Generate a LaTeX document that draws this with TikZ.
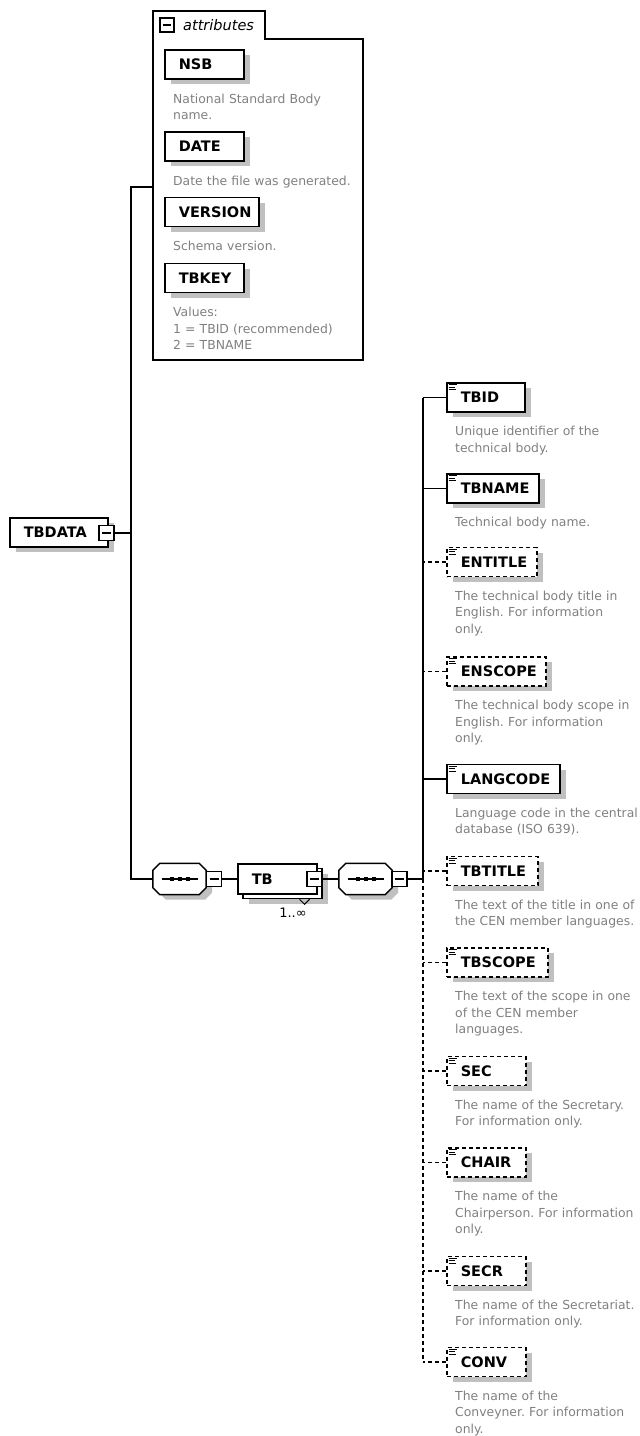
\documentclass[tikz,border=0pt]{standalone}
\usepackage{fontspec}
\setmainfont{DejaVu Sans}
\usetikzlibrary{shadows}
\frenchspacing
\definecolor{desccol}{RGB}{128,128,128}
\definecolor{shadecol}{RGB}{192,192,192}
\newcommand\lblfont{\fontsize{14.5}{17}\selectfont\bfseries}
\newcommand\descfont{\fontsize{12.4}{16.5}\selectfont}
% Achteck um einen Knoten, verschoben um (#2,#3)
\newcommand\octo[3]{([shift={(#2+7,#3)}]#1.north west) -- ([shift={(#2-7,#3)}]#1.north east)
  -- ([shift={(#2,#3+7)}]#1.north east) -- ([shift={(#2,#3-7)}]#1.south east)
  -- ([shift={(#2-7,#3)}]#1.south east) -- ([shift={(#2+7,#3)}]#1.south west)
  -- ([shift={(#2,#3-7)}]#1.south west) -- ([shift={(#2,#3+7)}]#1.north west) -- cycle}
% Sequenz-Symbol
\newcommand\seqsym[2]{%
  \node[seqnode] (#1) at (#2) {};
  \fill[shadecol] \octo{#1}{6}{5};
  \draw[line width=1.5pt, fill=white] \octo{#1}{0}{0};
  \draw[line width=1.3pt] ([xshift=-18pt]#1.center) -- ([xshift=18pt]#1.center);
  \foreach \dx in {-8,0,8}
    \fill ([shift={(\dx-2,-2)}]#1.center) rectangle ([shift={(\dx+2,2)}]#1.center);
}
\begin{document}
\begin{tikzpicture}[x=1pt, y=-1pt,
  conn/.style={line width=1.5pt},
  box/.style={draw, fill=white, line width=1.6pt, minimum height=29pt, inner xsep=0pt,
    inner ysep=0pt, align=left, anchor=west, font=\lblfont,
    execute at begin node={\hspace*{14pt}}},
  elem/.style={box, drop shadow={shadow xshift=6pt, shadow yshift=-5pt, fill=shadecol, opacity=1}},
  opt/.style={dash pattern=on 4pt off 3pt},
  desc/.style={anchor=base west, align=left, text width=185pt, inner sep=0pt,
    font=\descfont, text=desccol},
  minus/.style={draw, fill=white, line width=1.3pt, minimum width=15pt, minimum height=15pt,
    inner sep=0pt, path picture={\draw[line width=1.2pt]
      ([xshift=3pt]path picture bounding box.west) -- ([xshift=-3pt]path picture bounding box.east);}},
  seqnode/.style={minimum width=53pt, minimum height=31pt, inner sep=0pt}]
  \useasboundingbox (0,0) rectangle (640,1436);

  % Attribute
  \draw[line width=1.5pt] (153,11) -- (265,11) -- (265,39) -- (363,39) -- (363,360) -- (153,360) -- cycle;
  \coordinate (attr) at (153,187);
  \node[minus, minimum width=14pt, minimum height=14pt] (attrm) at (167,25) {};
  \node[font=\fontsize{14.5}{17}\selectfont\itshape, anchor=west, inner sep=0pt] (attrlbl) at (183,25) {attributes};

  \node[elem, text width=79pt] (nsb) at (164,64.5) {NSB};
  \node[desc] (nsbd) at ([shift={(9,23.5)}]nsb.south west) {National Standard Body\\name.};
  \node[elem, text width=79pt] (date) at (164,146.5) {DATE};
  \node[desc] (dated) at ([shift={(9,23.5)}]date.south west) {Date the file was generated.};
  \node[elem, text width=94pt] (version) at (164,212) {VERSION};
  \node[desc] (versiond) at ([shift={(9,23.5)}]version.south west) {Schema version.};
  \node[elem, text width=79pt] (tbkey) at (164,278) {TBKEY};
  \node[desc] (tbkeyd) at ([shift={(9,23.5)}]tbkey.south west) {Values:\\1 = TBID (recommended)\\2 = TBNAME};

  % Wurzelelement
  \node[elem, text width=98pt] (tbdata) at (9,532.5) {TBDATA};
  \node[minus] (tbdatam) at (106.5,533) {};
  \coordinate (fork) at (131,533);

  % Sequenz und TB
  \seqsym{seqa}{179.5,879}
  \node[minus] (seqam) at (214,879) {};
  \node[elem, text width=79pt, minimum height=30pt] (tbback) at (242,883.5) {};
  \node[box, text width=79pt, minimum height=30pt] (tb) at (237,879) {TB};
  \node[minus] (tbm) at (314.5,879) {};
  \draw[line width=1pt] ([xshift=-23pt]tbback.south east) -- ++(5,5) -- ++(5,-5);
  \node[font=\fontsize{13}{15}\selectfont, inner sep=0pt] (tbocc) at (293,913) {1..∞};
  \seqsym{seqb}{365.5,879}
  \node[minus] (seqbm) at (399.5,879) {};
  \coordinate (rfork) at (423,879);

  % Kindelemente
  \node[elem, text width=78pt] (tbid) at (446,397.5) {TBID};
  \node[desc] (tbidd) at ([shift={(9,23)}]tbid.south west) {Unique identifier of the\\technical body.};
  \node[elem, text width=92pt] (tbname) at (446,488.5) {TBNAME};
  \node[desc] (tbnamed) at ([shift={(9,23)}]tbname.south west) {Technical body name.};
  \node[elem, opt, text width=90pt] (entitle) at (446,562) {ENTITLE};
  \node[desc] (entitled) at ([shift={(9,23)}]entitle.south west) {The technical body title in\\English. For information\\only.};
  \node[elem, opt, text width=99pt] (enscope) at (446,671.5) {ENSCOPE};
  \node[desc] (enscoped) at ([shift={(9,23)}]enscope.south west) {The technical body scope in\\English. For information\\only.};
  \node[elem, text width=113pt] (langcode) at (446,779) {LANGCODE};
  \node[desc] (langcoded) at ([shift={(9,23)}]langcode.south west) {Language code in the central\\database (ISO 639).};
  \node[elem, opt, text width=91pt] (tbtitle) at (446,871) {TBTITLE};
  \node[desc] (tbtitled) at ([shift={(9,23)}]tbtitle.south west) {The text of the title in one of\\the CEN member languages.};
  \node[elem, opt, text width=101pt] (tbscope) at (446,962.5) {TBSCOPE};
  \node[desc] (tbscoped) at ([shift={(9,23)}]tbscope.south west) {The text of the scope in one\\of the CEN member\\languages.};
  \node[elem, opt, text width=79pt] (sec) at (446,1071) {SEC};
  \node[desc] (secd) at ([shift={(9,23)}]sec.south west) {The name of the Secretary.\\For information only.};
  \node[elem, opt, text width=79pt] (chair) at (446,1162.5) {CHAIR};
  \node[desc] (chaird) at ([shift={(9,23)}]chair.south west) {The name of the\\Chairperson. For information\\only.};
  \node[elem, opt, text width=79pt] (secr) at (446,1271) {SECR};
  \node[desc] (secrd) at ([shift={(9,23)}]secr.south west) {The name of the Secretariat.\\For information only.};
  \node[elem, opt, text width=79pt] (conv) at (446,1362) {CONV};
  \node[desc] (convd) at ([shift={(9,23)}]conv.south west) {The name of the\\Conveyner. For information\\only.};

  % Symbol fuer Elemente
  \foreach \n in {tbid,tbname,entitle,enscope,langcode,tbtitle,tbscope,sec,chair,secr,conv}
    \draw[line width=0.9pt] ([shift={(2.5,2.5)}]\n.north west) -- ++(8,0)
      ([shift={(2.5,5)}]\n.north west) -- ++(6,0) ([shift={(2.5,7.5)}]\n.north west) -- ++(7,0);

  % Verbindungen
  \draw[conn] (tbdatam.east) -- (fork);
  \draw[conn] (attr) -| (fork);
  \draw[conn] (seqa.west) -| (fork);
  \draw[conn] (seqam.east) -- (tb.west);
  \draw[conn] (tbm.east) -- (seqb.west);
  \draw[conn] (seqbm.east) -- (rfork);
  \draw[conn] (tbid.west -| rfork) -- (rfork);
  \draw[conn, opt] (rfork) -- (conv.west -| rfork);
  \foreach \n in {tbid,tbname,langcode}
    \draw[conn] (\n.west) -- (\n.west -| rfork);
  \foreach \n in {entitle,enscope,tbtitle,tbscope,sec,chair,secr,conv}
    \draw[conn, opt] (\n.west) -- (\n.west -| rfork);
\end{tikzpicture}
\end{document}
